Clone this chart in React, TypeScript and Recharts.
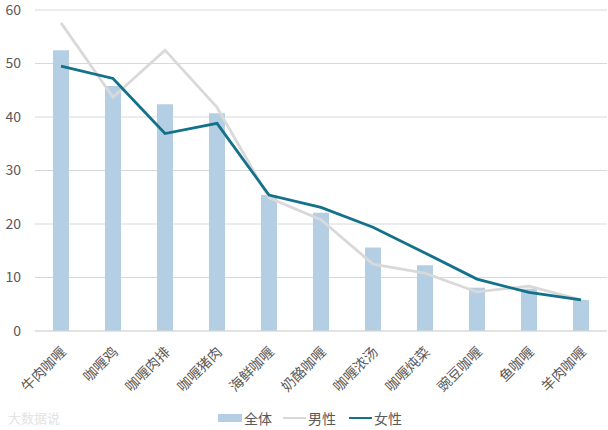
import React from "react";
import { ComposedChart, Bar, Line, XAxis, YAxis, CartesianGrid, Legend } from "recharts";

const categories = ["牛肉咖喱", "咖喱鸡", "咖喱肉排", "咖喱猪肉", "海鲜咖喱", "奶酪咖喱", "咖喱浓汤", "咖喱炖菜", "豌豆咖喱", "鱼咖喱", "羊肉咖喱"];
const overall = [52.5, 45.8, 42.4, 40.7, 25.4, 22.1, 15.6, 12.3, 8.1, 7.9, 5.8];
const male = [57.6, 43.7, 52.5, 41.8, 24.9, 20.8, 12.5, 10.8, 7.3, 8.4, 5.8];
const female = [49.5, 47.2, 36.9, 38.8, 25.4, 23.1, 19.4, 14.6, 9.7, 7.2, 5.8];
const yTicks = [0, 10, 20, 30, 40, 50, 60];

const data = categories.map((c, i) => ({ name: c, 全体: overall[i], 男性: male[i], 女性: female[i] }));

const FONT = "'Noto Sans CJK SC', 'Microsoft YaHei', sans-serif";
const BAR = "#B4CFE3";
const MALE = "#D9D9D9";
const FEMALE = "#13718A";

const XTick = (props: any) => {
  const { x, y, payload } = props;
  return (
    <g transform={`translate(${x + 3},${y + 11})`}>
      <text transform="rotate(-45)" textAnchor="end" dy={4} fill="#595959" fontSize={14} fontFamily={FONT}>
        {payload.value}
      </text>
    </g>
  );
};

const LegendContent = () => (
  <div style={{ position: "relative", height: 24, fontFamily: FONT, fontSize: 14, color: "#595959", lineHeight: "20px" }}>
    <div style={{ position: "absolute", left: 218, top: 8, width: 24, height: 8, background: BAR }} />
    <span style={{ position: "absolute", left: 244, top: 2 }}>全体</span>
    <div style={{ position: "absolute", left: 283, top: 11, width: 23, height: 2, background: MALE }} />
    <span style={{ position: "absolute", left: 308, top: 2 }}>男性</span>
    <div style={{ position: "absolute", left: 349, top: 11, width: 23, height: 2, background: FEMALE }} />
    <span style={{ position: "absolute", left: 374, top: 2 }}>女性</span>
  </div>
);

export default function App() {
  return (
    <div style={{ position: "absolute", left: 0, top: 0, width: 608, height: 430, background: "#fff" }}>
      <ComposedChart width={608} height={430} data={data} margin={{ top: 10, right: 1, left: 0, bottom: 0 }}>
        <CartesianGrid vertical={false} stroke="#D9D9D9" strokeWidth={1} />
        <XAxis dataKey="name" interval={0} height={75} tick={<XTick />} tickLine={false} axisLine={{ stroke: "#D9D9D9" }} />
        <YAxis
          width={35}
          domain={[0, 60]}
          ticks={yTicks}
          tickLine={false}
          axisLine={false}
          tickMargin={8}
          tick={{ fill: "#595959", fontSize: 14, fontFamily: FONT }}
        />
        <Legend verticalAlign="bottom" height={24} content={<LegendContent />} />
        <Bar dataKey="全体" fill={BAR} barSize={16} isAnimationActive={false} />
        <Line dataKey="男性" type="linear" stroke={MALE} strokeWidth={2.8} dot={false} isAnimationActive={false} />
        <Line dataKey="女性" type="linear" stroke={FEMALE} strokeWidth={2.8} dot={false} isAnimationActive={false} />
      </ComposedChart>
      <div style={{ position: "absolute", left: 8, top: 408, fontFamily: FONT, fontSize: 13, color: "#E3E3E3" }}>大数据说</div>
    </div>
  );
}
